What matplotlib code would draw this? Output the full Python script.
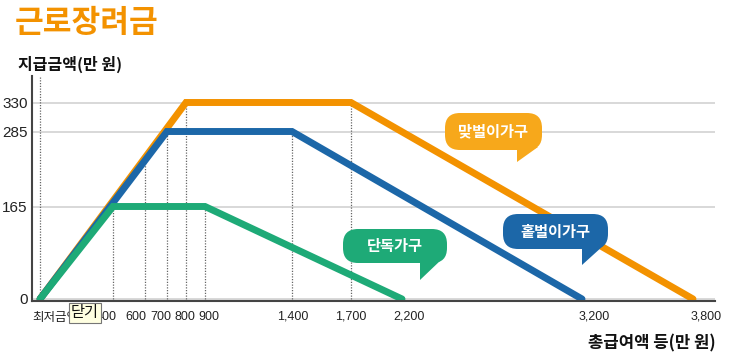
import matplotlib
matplotlib.use("Agg")
import matplotlib.pyplot as plt
import numpy as np
from matplotlib.patches import FancyBboxPatch, Polygon
from matplotlib.transforms import Affine2D, IdentityTransform

plt.rcParams["font.family"] = ["Liberation Sans", "Noto Sans CJK KR", "DejaVu Sans"]

# 총급여액 등(만 원) -> 지급금액(만 원)
single_x = [0, 400, 900, 2200]
single_y = [0, 165, 165, 0]
one_earner_x = [0, 700, 1400, 3200]
one_earner_y = [0, 285, 285, 0]
dual_x = [0, 800, 1700, 3800]
dual_y = [0, 330, 330, 0]

guide_x = [400, 600, 700, 800, 900, 1400, 1700]
guide_top = [165, 236, 285, 330, 165, 285, 330]

x_ticks = [0, 400, 600, 700, 800, 900, 1400, 1700, 2200, 3200, 3800]
x_ticklabels = ["최저금액", "400", "600", "700", "800", "900",
                "1,400", "1,700", "2,200", "3,200", "3,800"]
y_ticks = [0, 165, 285, 330]

ORANGE = "#f39200"
BLUE = "#1c67a8"
GREEN = "#1eaa77"

W, H = 735, 357

# the original axes are not linear, so map values through fixed knots (pixels)
X_KNOT_VAL = [-100, 0, 400, 600, 700, 800, 900, 1400, 1700, 2200, 3200, 3800, 3900]
X_KNOT_POS = [32, 40, 113, 145, 167, 186, 205, 292, 351, 402, 582, 693, 715]
Y_KNOT_VAL = [-4, 0, 165, 285, 330, 375]
Y_KNOT_POS = [0, 2, 94.5, 169.5, 198.5, 225]


def knot_scale(vals, pos):
    fwd = lambda v: np.interp(v, vals, pos)
    inv = lambda p: np.interp(p, pos, vals)
    return fwd, inv


def bubble(fig, text, color, box, tail):
    x0, y0, x1, y1 = box
    tl, tr, tip = tail
    patch = FancyBboxPatch((x0, H - y1), x1 - x0, y1 - y0,
                           boxstyle="round,pad=0,rounding_size=15",
                           fc=color, ec="none", transform=IdentityTransform(), zorder=5)
    fig.add_artist(patch)
    tri = Polygon([(tl, H - y1 + 3), (tl, H - tip), (tr + 3, H - y1 + 3)],
                  closed=True, fc=color, ec="none", transform=IdentityTransform(), zorder=5)
    fig.add_artist(tri)
    fig.text((x0 + x1) / 2 / W, 1 - (y0 + y1) / 2 / H, text, ha="center", va="center",
             color="white", fontsize=11, fontweight="bold",
             family="Noto Sans CJK KR", zorder=6)


fig = plt.figure(figsize=(W / 100, H / 100), dpi=100)
ax = fig.add_axes([32 / W, 56 / H, 683 / W, 225 / H])
ax.set_xscale("function", functions=knot_scale(X_KNOT_VAL, X_KNOT_POS))
ax.set_yscale("function", functions=knot_scale(Y_KNOT_VAL, Y_KNOT_POS))
ax.set_xlim(-100, 3900)
ax.set_ylim(-4, 375)

ax.axvline(0, color="#666666", lw=0.9, ls=(0, (1, 1.2)), zorder=1)
ax.vlines(guide_x, 0, guide_top, color="#666666", lw=0.9, ls=(0, (1, 1.2)), zorder=1)

for xs, ys, c in [(dual_x, dual_y, ORANGE), (one_earner_x, one_earner_y, BLUE),
                  (single_x, single_y, GREEN)]:
    ax.plot(xs, ys, color=c, lw=5, solid_capstyle="round", solid_joinstyle="miter", zorder=3)

ax.set_yticks(y_ticks)
ax.grid(axis="y", color="#d6d6d6", lw=1.3)
ax.set_axisbelow(True)
for s in ["top", "right"]:
    ax.spines[s].set_visible(False)
for s in ["left", "bottom"]:
    ax.spines[s].set_color("#444444")
    ax.spines[s].set_linewidth(1.5)
    ax.spines[s].set_zorder(4)

ax.tick_params(axis="both", length=0)
ax.tick_params(axis="y", pad=3, labelsize=11, labelcolor="#222222")
ax.tick_params(axis="x", pad=7, labelcolor="#222222")
ax.set_xticks(x_ticks)
ax.set_xticklabels(x_ticklabels, fontsize=9)

label_shift = [-8, -7, -9, -6, -1, 4, 1, 0, 7, 12, 13]
for lab, dx in zip(ax.get_xticklabels(), label_shift):
    lab.set_transform(lab.get_transform() + Affine2D().translate(dx, 0))
first = ax.get_xticklabels()[0]
first.set_fontsize(9)
first.set_family("Noto Sans CJK KR")
first.set_ha("left")

fig.text(15 / W, 1 - 23 / H, "근로장려금", ha="left", va="center", color=ORANGE,
         fontsize=22.5, fontweight="black", family="Noto Sans CJK KR")
fig.text(18 / W, 1 - 64 / H, "지급금액(만 원)", ha="left", va="center", color="#111111",
         fontsize=11.5, fontweight="bold", family="Noto Sans CJK KR")
fig.text(716 / W, 1 - 343 / H, "총급여액 등(만 원)", ha="right", va="center", color="#111111",
         fontsize=12, fontweight="bold", family="Noto Sans CJK KR")

bubble(fig, "맞벌이가구", "#f7a81b", (445, 113, 542, 150), (517, 535, 162))
bubble(fig, "홑벌이가구", BLUE, (503, 214, 608, 249), (582, 600, 265))
bubble(fig, "단독가구", GREEN, (343, 229, 447, 263), (420, 438, 280))

# browser tooltip overlaid in the source image
fig.text(71 / W, 1 - 313 / H, "닫기", ha="left", va="center", color="#111111", fontsize=11,
         family="Noto Sans CJK KR", zorder=7,
         bbox=dict(boxstyle="square,pad=0.12", fc="#ffffe1", ec="#767676", lw=0.8))

fig.savefig("out.png", dpi=100)
